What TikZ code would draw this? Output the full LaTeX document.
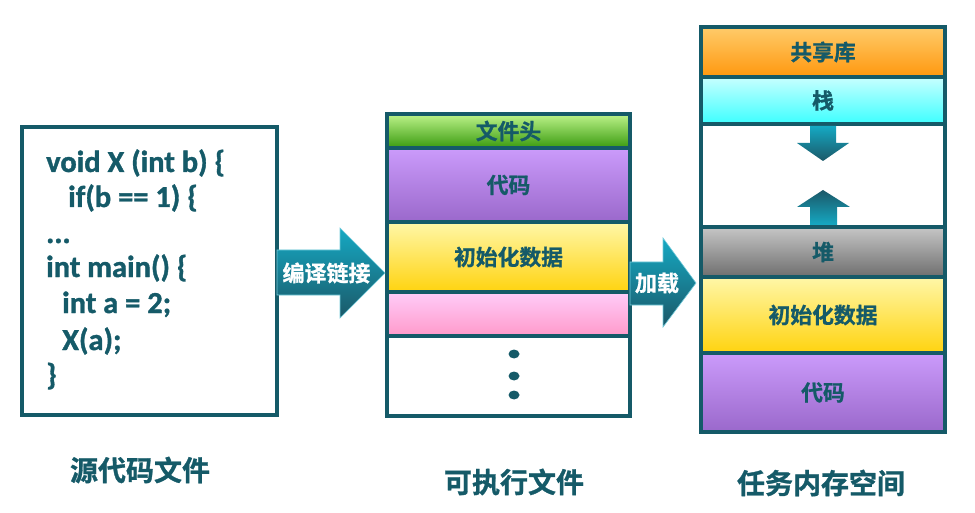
\documentclass[tikz,border=0pt]{standalone}
\usepackage{fontspec}
\setmainfont{Carlito}
\newfontfamily\codefont{Carlito Bold}[FakeBold=1.2]
\newfontfamily\cjk{Noto Sans CJK SC Bold}[FakeBold=1]
\usetikzlibrary{calc,shapes.geometric}
\definecolor{dk}{HTML}{155A68}
\definecolor{arrlight}{HTML}{15A9C3}
\definecolor{arrdark}{HTML}{1B5868}
\definecolor{gTop}{HTML}{BDF38A}\definecolor{gBot}{HTML}{3A9B0F}
\definecolor{pTop}{HTML}{CB9BFB}\definecolor{pBot}{HTML}{9A68CB}
\definecolor{yTop}{HTML}{FFF7A8}\definecolor{yBot}{HTML}{FFD30F}
\definecolor{kTop}{HTML}{FFCCF9}\definecolor{kBot}{HTML}{FF9ACA}
\definecolor{oTop}{HTML}{FFCB6A}\definecolor{oBot}{HTML}{FF980E}
\definecolor{cTop}{HTML}{C8FFFF}\definecolor{cBot}{HTML}{3CFFFF}
\definecolor{hTop}{HTML}{C6C6C6}\definecolor{hBot}{HTML}{6E6E6E}
\begin{document}
\begin{tikzpicture}[x=1pt,y=-1pt,
  row/.style={draw=dk, line width=4pt, inner sep=0pt, outer sep=0pt, text=dk,
    font=\cjk\fontsize{21.8}{22}\selectfont},
  codeline/.style={anchor=base west, inner sep=0pt, text=dk,
    font=\codefont\fontsize{30.5}{31}\selectfont},
  biglbl/.style={text=dk, inner sep=0pt, font=\cjk\fontsize{28}{28}\selectfont},
  arrlbl/.style={text=white, inner sep=0pt, font=\cjk\fontsize{22}{22}\selectfont},
  blockarrow/.style={draw=arrlight!60!white, line width=0.6pt}
]
\useasboundingbox (0,0) rectangle (975,513);
% source box
\node[row, minimum width=255pt, minimum height=288pt] (src) at (149.5,271) {};
\node[codeline] (c1) at (46,172) {void X (int b) \{};
\node[codeline] (c2) at (68,207) {if(b == 1) \{};
\node[codeline] (c3) at (46,243) {...};
\node[codeline] (c4) at (46,277) {int main() \{};
\node[codeline] (c5) at (62,313) {int a = 2;};
\node[codeline] (c6) at (62,350) {X(a);};
\node[codeline] (c7) at (46,385) {\}};
% executable
\node[row, minimum width=243pt, minimum height=34pt, top color=gTop, bottom color=gBot] (m1) at (508.5,131) {文件头};
\node[row, minimum width=243pt, minimum height=74pt, top color=pTop, bottom color=pBot] (m2) at (508.5,185) {代码};
\node[row, minimum width=243pt, minimum height=70pt, top color=yTop, bottom color=yBot] (m3) at (508.5,257) {初始化数据};
\node[row, minimum width=243pt, minimum height=44pt, top color=kTop, bottom color=kBot] (m4) at (508.5,314) {};
\node[row, minimum width=243pt, minimum height=80pt, fill=white] (m5) at (508.5,376) {};
\foreach \yy/\nm in {354/d1,376/d2,395/d3}
  \node[fill=dk, ellipse, inner sep=0pt, minimum width=11pt, minimum height=9pt] (\nm) at (514,\yy) {};
% task memory
\node[row, minimum width=244pt, minimum height=50pt, top color=oTop, bottom color=oBot] (r1) at (823,52) {共享库};
\node[row, minimum width=244pt, minimum height=47pt, top color=cTop, bottom color=cBot] (r2) at (823,100.5) {栈};
\node[row, minimum width=244pt, minimum height=103pt, fill=white] (r3) at (823,175.5) {};
\node[row, minimum width=244pt, minimum height=50pt, top color=hTop, bottom color=hBot] (r4) at (823,252) {堆};
\node[row, minimum width=244pt, minimum height=76pt, top color=yTop, bottom color=yBot] (r5) at (823,315) {初始化数据};
\node[row, minimum width=244pt, minimum height=79pt, top color=pTop, bottom color=pBot] (r6) at (823,392.5) {代码};
% big arrows
\coordinate (a1tip) at ($(m3.west |- 0,273)+(-2,0)$);
\coordinate (a2tip) at ($(r5.west |- 0,283)+(-5,0)$);
\path[blockarrow, top color=arrlight, bottom color=arrdark]
  (src.east |- 0,250) -- (340,250) -- (340,228) -- (a1tip) -- (340,318) -- (340,295) -- (src.east |- 0,295) -- cycle;
\node[arrlbl] (l1) at (326.5,273) {编译链接};
\path[blockarrow, top color=arrlight, bottom color=arrdark]
  (m3.east |- 0,262) -- (663,262) -- (663,238) -- (a2tip) -- (663,327) -- (663,305) -- (m3.east |- 0,305) -- cycle;
\node[arrlbl] (l2) at (657,283) {加载};
% inner arrows
\path[top color=arrlight, bottom color=arrdark]
  (810,126) -- (836,126) -- (836,143) -- (849,143) -- (823,161) -- (797,143) -- (810,143) -- cycle;
\path[top color=arrdark, bottom color=arrlight]
  (810,225) -- (837,225) -- (837,207) -- (850,207) -- (823,190) -- (797,207) -- (810,207) -- cycle;
% labels
\node[biglbl] (t1) at (140,470) {源代码文件};
\node[biglbl] (t2) at (514,482) {可执行文件};
\node[biglbl] (t3) at (821,483) {任务内存空间};
\end{tikzpicture}
\end{document}
